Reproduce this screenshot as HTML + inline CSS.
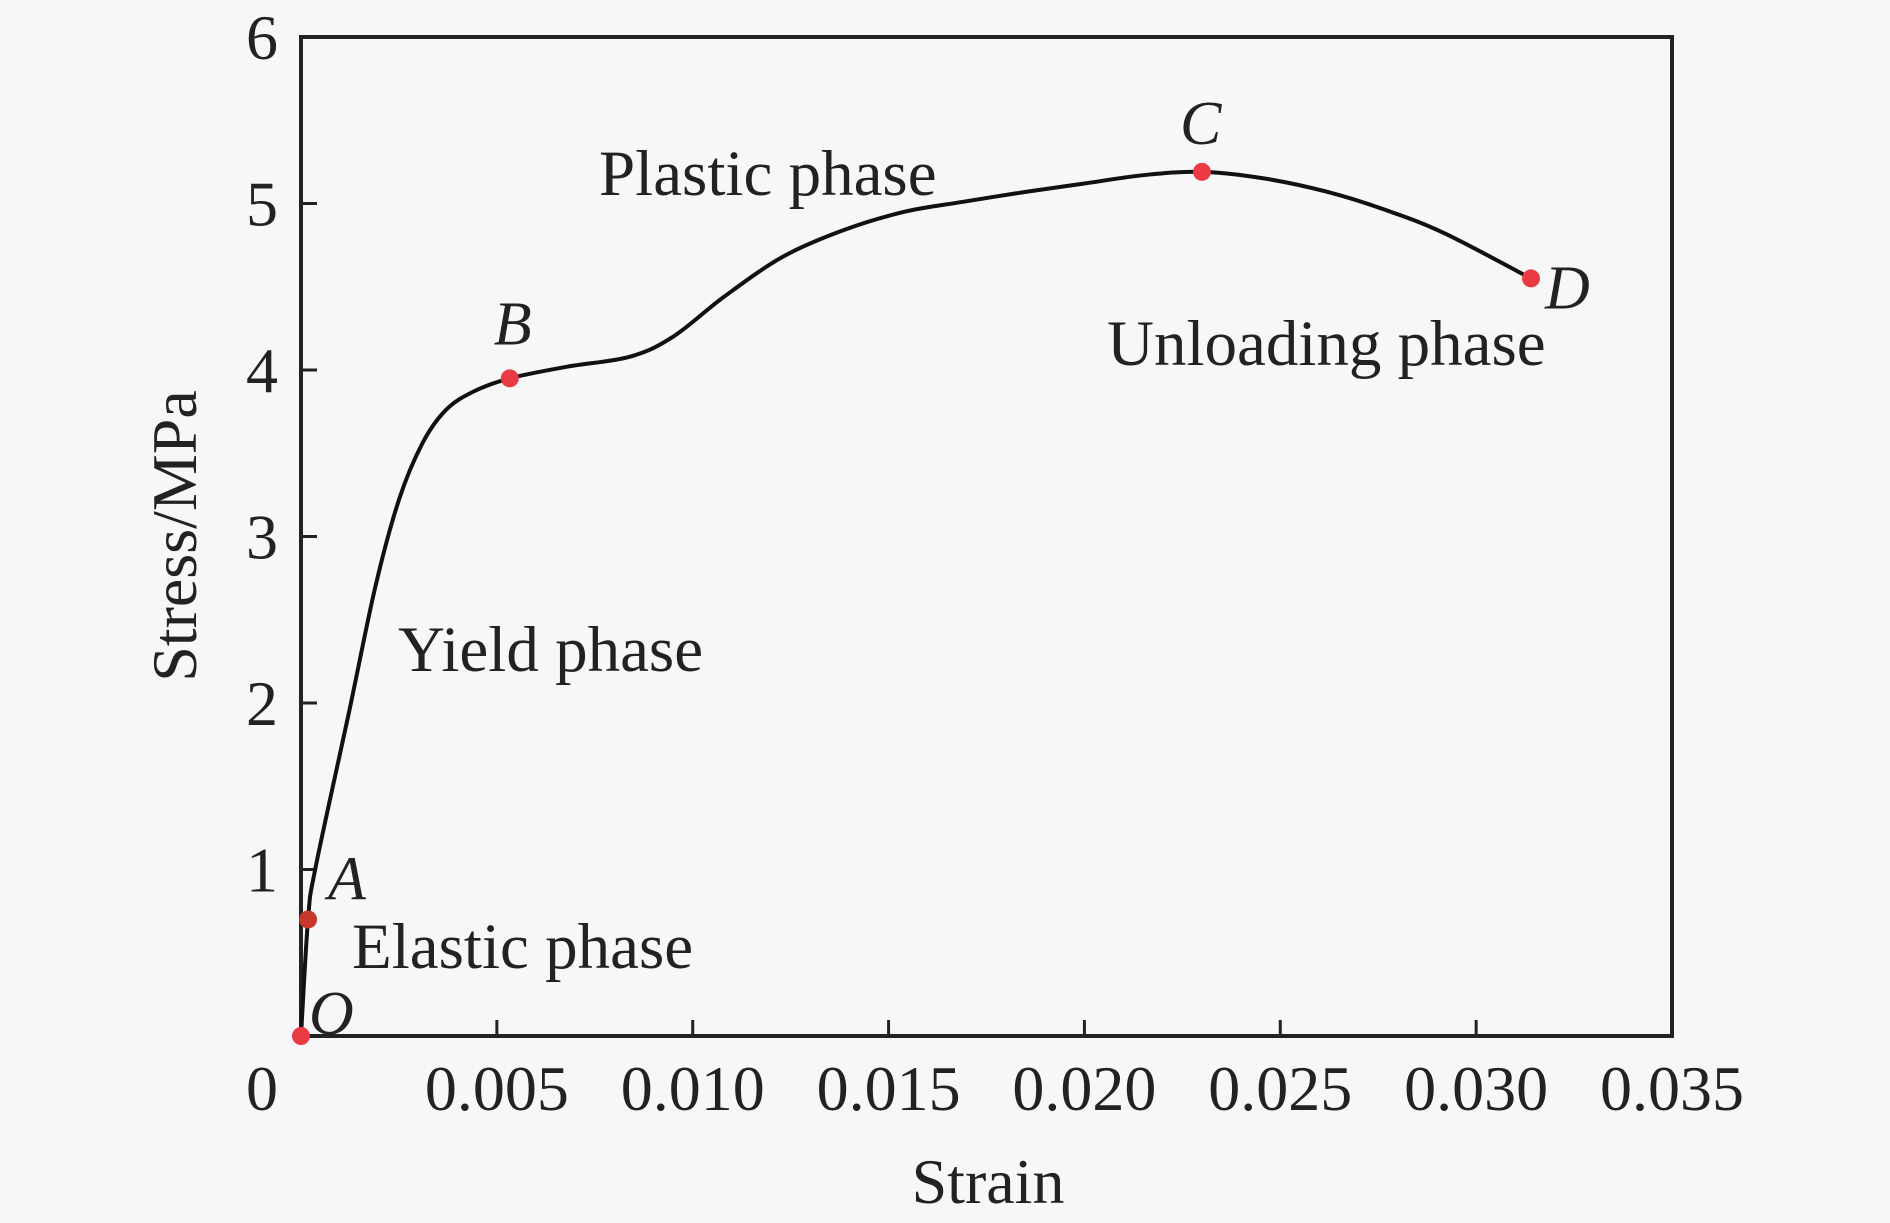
<!DOCTYPE html>
<html><head><meta charset="utf-8"><style>
html,body{margin:0;padding:0;background:#f7f7f7;}
svg{display:block;font-family:"Liberation Serif",serif;}
</style></head><body>
<svg width="1890" height="1223" viewBox="0 0 1890 1223">
<rect x="0" y="0" width="1890" height="1223" fill="#f7f7f7"/>
<g id="axes"></g>
<g id="marks"></g>
<g id="labels"></g>
</svg>
<script>
const xTicks = [0.005, 0.010, 0.015, 0.020, 0.025, 0.030, 0.035];
const xTickLabels = ["0.005", "0.010", "0.015", "0.020", "0.025", "0.030", "0.035"];
const yTicks = [1, 2, 3, 4, 5, 6];
const yTickLabels = ["1", "2", "3", "4", "5", "6"];
const strain = [0, 0.00018, 0.00037, 0.00123, 0.0019, 0.0025, 0.0031, 0.0037, 0.0044, 0.00533, 0.0068, 0.0084, 0.0095, 0.0108, 0.0123, 0.01385, 0.0154, 0.0169, 0.0185, 0.0200, 0.0215, 0.0230, 0.0246, 0.0262, 0.0277, 0.0292, 0.0314];
const stress = [0, 0.70, 1.01, 1.95, 2.70, 3.22, 3.56, 3.76, 3.87, 3.95, 4.02, 4.08, 4.20, 4.44, 4.68, 4.84, 4.95, 5.01, 5.07, 5.12, 5.17, 5.19, 5.15, 5.07, 4.96, 4.82, 4.55];
const pointNames = ["O", "A", "B", "C", "D"];
const pointStrain = [0, 0.00018, 0.00533, 0.0230, 0.0314];
const pointStress = [0, 0.70, 3.95, 5.19, 4.55];

const NS = "http://www.w3.org/2000/svg";
const L = 301, R = 1672, T = 37, B = 1036;
const X = v => L + v / 0.035 * (R - L);
const Y = v => B - v / 6 * (B - T);
function mk(tag, attrs, parent, text) {
  const e = document.createElementNS(NS, tag);
  for (const k in attrs) e.setAttribute(k, attrs[k]);
  if (text !== undefined) e.textContent = text;
  parent.appendChild(e);
  return e;
}
const axes = document.getElementById("axes");
const marks = document.getElementById("marks");
const labels = document.getElementById("labels");

const frame = mk("rect", {x: L, y: T, width: R - L, height: B - T, fill: "none", stroke: "#222", "stroke-width": 4}, axes);



xTicks.forEach((v, i) => {
  const t = mk("line", {x1: X(v), x2: X(v), y1: B, y2: B - 16, stroke: "#222", "stroke-width": 3}, axes);
  
  
  const tl = mk("text", {x: X(v), y: 1110, "font-size": 64, "text-anchor": "middle", fill: "#222"}, labels, xTickLabels[i]);
  
  
});
const z = mk("text", {x: 262, y: 1110, "font-size": 64, "text-anchor": "middle", fill: "#222"}, labels, "0");


yTicks.forEach((v, i) => {
  const t = mk("line", {x1: L, x2: L + 16, y1: Y(v), y2: Y(v), stroke: "#222", "stroke-width": 3}, axes);
  
  
  const tl = mk("text", {x: 278, y: Y(v) + 22, "font-size": 64, "text-anchor": "end", fill: "#222"}, labels, yTickLabels[i]);
  
  
});
const xt = mk("text", {x: 988, y: 1203, "font-size": 64, "text-anchor": "middle", fill: "#222"}, labels, "Strain");


const yt = mk("text", {x: 0, y: 0, "font-size": 64, "text-anchor": "middle", fill: "#222", transform: "translate(196,536) rotate(-90)"}, labels, "Stress/MPa");



const P = strain.map((s, i) => [X(s), Y(stress[i])]);
let d = "M" + P[0][0] + "," + P[0][1];
for (let i = 0; i < P.length - 1; i++) {
  const p0 = P[Math.max(0, i - 1)], p1 = P[i], p2 = P[i + 1], p3 = P[Math.min(P.length - 1, i + 2)];
  const c1 = [p1[0] + (p2[0] - p0[0]) / 6, p1[1] + (p2[1] - p0[1]) / 6];
  const c2 = [p2[0] - (p3[0] - p1[0]) / 6, p2[1] - (p3[1] - p1[1]) / 6];
  d += " C" + c1[0] + "," + c1[1] + " " + c2[0] + "," + c2[1] + " " + p2[0] + "," + p2[1];
}
const curve = mk("path", {d: d, fill: "none", stroke: "#111", "stroke-width": 4}, marks);



const letterOff = [[8, -2], [20, -20], [-16, -34], [-22, -28], [14, 30]];
pointNames.forEach((n, i) => {
  const c = mk("circle", {cx: X(pointStrain[i]), cy: Y(pointStress[i]), r: 9, fill: n === "A" ? "#c8372c" : "#ea3a44"}, marks);
  
  
  const t = mk("text", {x: X(pointStrain[i]) + letterOff[i][0], y: Y(pointStress[i]) + letterOff[i][1], "font-size": 62, "font-style": "italic", fill: "#222"}, labels, n);
  
  
});

const phases = [["Plastic phase", 599, 195], ["Unloading phase", 1107, 365], ["Yield phase", 398, 671], ["Elastic phase", 352, 968]];
phases.forEach(p => {
  const t = mk("text", {x: p[1], y: p[2], "font-size": 65, fill: "#222"}, labels, p[0]);
  
  
});
</script>
</body></html>
